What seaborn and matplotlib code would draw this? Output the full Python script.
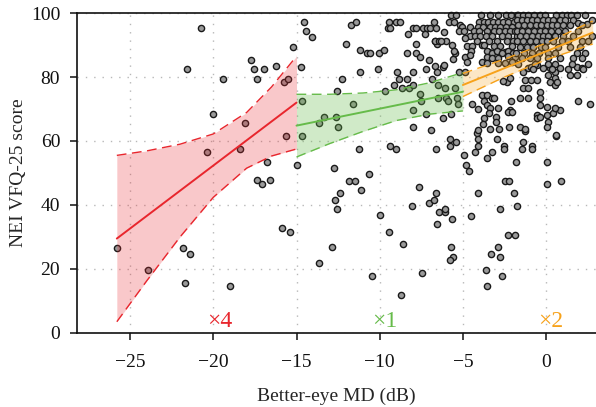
import matplotlib
matplotlib.use('Agg')
import matplotlib.pyplot as plt
import seaborn as sns
import pandas as pd

# scatter points: better-eye MD (dB) and VFQ-25 score
md_db = [
    # below -15 dB
    -25.8, -23.9, -21.8, -21.4, -21.7, -19.0, -15.9, -15.4,
    -20.76, -21.6, -19.4, -20.0, -20.35, -18.1, -18.4, -17.75, -17.55, -17.4, -16.95, -16.25,
    -15.76, -15.5, -15.2, -15.66, -16.76, -17.4, -17.05, -16.6, -15.0,
    # -15 to -5 dB
    -14.76, -14.56, -14.44, -14.08, -11.7, -11.4, -12.04, -11.2, -10.76, -10.6,
    -11.2, -12.26, -12.56, -10.02, -9.74, -10.12, -9.66, -9.44, -9.52, -9.36,
    -9.02, -8.8, -8.3, -8.0, -7.84, -7.84, -8.36, -7.84, -7.6, -7.4,
    -7.16, -6.96, -6.76, -6.6, -7.28, -6.7, -6.56, -7.02, -6.7, -6.56,
    -7.22, -8.02, -8.94, -8.82, -8.36, -9.12, -8.68, -8.22, -8.02, -6.84, -6.48,
    -14.7, -13.36, -12.62, -11.62, -7.56, -7.52, -8.0, -7.2, -6.52,
    -13.64, -12.5, -14.7, -11.22, -12.74, -11.82, -11.5, -10.62, -11.14, -12.38,
    -12.7, -12.54, -10.0, -9.38, -9.02, -7.98, -6.94, -6.64, -7.64, -6.64,
    -7.04, -6.74, -8.08, -6.42, -6.56,
    -12.86, -13.62, -10.44, -9.42, -8.58, -7.48, -8.7,
    -6.1, -6.06, -5.66, -5.74, -5.62, -5.76,
    -6.2, -6.06, -5.46, -6.0, -5.36, -5.32, -5.92, -5.72, -6.2,
    -5.76, -5.4, -5.76, -6.66, -6.46, -6.0, -5.6, -5.5, -5.16,
    # above -5 dB, lower part
    -4.5, -3.62, -3.54, -3.3, -2.88, -2.78, -2.66, -2.74, -2.3, -1.86, -1.74,
    -4.16, -4.12, -4.1, -4.26, -4.92, -4.84, -4.62, -3.56, -3.24, -2.96,
    -2.5, -2.5, -1.38, -1.46, -0.84, -0.84, -1.24, -1.78, -2.46, -2.22,
    -4.1, -1.9, 0.06, 0.04, 0.88, 0.58,
    # above -5 dB, middle part
    -5.26, -4.86, -4.46, -3.86, -3.76, -3.56, -3.26, -3.12, -3.56, -3.4,
    -2.86, -4.12, -3.76, -3.8, -4.12, -3.46, -3.0, -3.02, -3.36, -2.8,
    -2.36, -2.16, -2.56, -2.1, -2.16, -2.26, -2.06, -2.2, -1.56, -1.26,
    -1.36, -1.06, -1.06, -1.56, -1.36, -1.06, -1.26, -0.92, -0.56,
    -0.36, -0.36, -0.36, 0.04, -0.56, -0.56, -0.36, 0.04, 0.14, 0.44,
    0.84, 0.54, 0.08, 0.6,
    0.24, 0.54, 0.84, 0.54, 0.24, 0.14, 0.54, 0.64, 1.44, 1.84,
    2.14, 1.84, 1.94, 2.64, -0.92, -0.56, -0.16,
    # above -5 dB, dense top part
    -5.7, -5.4, -3.9, -3.36, -2.9, -2.42, -2.1, -1.76,
    -5.86, -5.52, -4.06, -3.76, -3.5, -3.22, -2.92, -2.6, -2.26, -1.92,
    -5.06, -4.6, -4.12, -3.8, -3.36, -3.06, -2.76, -2.4, -2.06,
    -5.26, -4.96, -4.36, -4.06, -3.56, -3.16, -2.8, -2.46, -2.16, -1.86,
    -6.12, -4.56, -4.26, -3.96, -3.62, -3.26, -2.66, -2.26, -1.76,
    -6.32, -4.86, -4.16, -3.86, -3.46, -2.96, -2.36, -1.96,
    -5.66, -4.76, -4.46, -3.76, -3.46, -3.16, -2.76, -2.46, -2.06,
    -5.56, -4.52, -3.56, -3.26, -2.96, -2.66, -2.26, -1.96,
    -4.86, -4.6, -3.56, -3.26, -2.86, -2.26, -1.86,
    -6.16, -4.76, -3.86, -3.56, -2.86, -2.46, -2.06,
    -1.66, -1.36, -1.06, -0.72, -0.36, -0.06, 0.58, 0.94, 1.24, 1.5, 1.84, 2.34,
    -1.76, -1.46, -1.16, -0.86, -0.56, -0.16, 0.14, 0.44, 0.84, 1.14, 1.64, 1.94, 2.44, 2.78,
    -1.66, -1.3, -0.96, -0.62, -0.3, 0.04, 0.34, 0.64, 1.04, 1.44, 2.14,
    -1.76, -1.42, -1.06, -0.7, -0.36, -0.06, 0.3, 0.74, 1.14, 1.94,
    -1.56, -1.22, -0.86, -0.5, -0.16, 0.14, 0.54, 1.04, 1.64, 2.74,
    -1.76, -1.36, -0.96, -0.62, -0.26, 0.04, 0.44, 0.94, 1.34, 2.14, 2.54,
    -1.56, -1.16, -0.76, -0.3, -0.06, 0.74, 1.44, 2.04,
    -1.82, -1.3, -0.86, -0.42, 0.14, 0.54, 1.84, 2.34,
    -1.46, -0.96, -0.56, 0.14, 0.84, 1.64, 2.14,
    -1.7, -0.66, 0.14, 0.54, 1.54, 2.54,
    -0.76, 0.34, 1.34, 2.24,
]
vfq_score = [
    26.7, 19.8, 26.7, 24.7, 15.7, 14.8, 32.7, 31.7,
    95.4, 82.5, 79.5, 68.5, 56.6, 65.5, 57.5, 85.3, 82.5, 79.5, 82.5, 83.4,
    78.5, 79.5, 89.5, 61.6, 53.5, 47.7, 46.7, 47.7, 52.6,
    83.2, 97.3, 94.4, 92.4, 96.3, 97.3, 90.4, 88.3, 87.4, 87.4,
    81.5, 79.4, 75.5, 87.4, 88.3, 82.4, 75.5, 97.3, 95.4, 95.4,
    97.3, 97.3, 93.4, 95.4, 95.4, 90.4, 87.4, 87.4, 86.3, 95.4,
    95.4, 95.4, 97.3, 95.4, 93.4, 91.4, 90.4, 85.3, 83.4, 81.5,
    82.4, 81.5, 81.5, 79.4, 79.4, 77.5, 76.5, 76.5, 77.5, 79.4, 77.5,
    72.6, 67.6, 67.6, 71.5, 74.6, 72.6, 69.6, 68.5, 73.4,
    65.5, 64.5, 61.6, 57.6, 51.6, 47.6, 47.6, 49.6, 44.6, 43.6,
    41.7, 38.7, 36.8, 58.5, 57.6, 64.5, 63.5, 57.6, 45.6, 43.6,
    40.7, 41.7, 39.7, 37.7, 34.1,
    26.8, 21.8, 17.8, 31.7, 27.7, 18.75, 11.8,
    37.7, 38.75, 35.7, 26.8, 23.75, 22.7,
    83.2, 76.5, 76.5, 73.5, 73.5, 71.5, 72.5, 68.3, 67.1,
    60.6, 59.6, 58.5, 91.4, 91.4, 91.4, 85.5, 87.6, 96.2,
    36.7, 19.8, 14.8, 24.8, 26.8, 23.75, 17.8, 38.7, 30.7, 30.7, 39.7,
    62.4, 60.6, 58.5, 56.6, 55.6, 52.6, 50.6, 54.6, 56.6, 60.5,
    58.5, 57.6, 59.6, 57.6, 58.5, 57.6, 63.2, 53.5, 47.6, 47.6,
    43.75, 43.6, 53.5, 46.7, 47.6, 61.6,
    81.7, 81.7, 71.5, 74.4, 72.5, 74.4, 73.3, 73.3, 71.3, 70.2,
    70.4, 70.0, 67.3, 65.2, 63.4, 68.7, 67.6, 65.8, 63.75, 63.75,
    78.5, 79.6, 78.8, 72.5, 69.7, 69.2, 69.2, 64.5, 64.5, 63.75,
    76.5, 76.5, 73.3, 73.3, 81.7, 82.7, 79.0, 79.0, 79.0,
    75.4, 73.3, 71.2, 70.7, 68.1, 67.1, 67.6, 68.1, 66.0, 68.7,
    69.7, 70.4, 64.5, 61.9,
    82.7, 81.7, 82.7, 79.6, 78.5, 80.6, 77.5, 78.5, 80.6, 83.2,
    82.7, 80.6, 72.5, 71.5, 83.2, 83.75, 82.7,
    99.4, 99.4, 99.4, 99.4, 99.4, 99.4, 99.4, 99.4,
    97.3, 97.3, 97.3, 97.3, 97.3, 97.3, 97.3, 97.3, 97.3, 97.3,
    95.6, 95.6, 95.6, 95.6, 95.6, 95.6, 95.6, 95.6, 95.6,
    94.5, 94.5, 94.5, 94.5, 94.5, 94.5, 94.5, 94.5, 94.5, 94.5,
    94.2, 92.8, 92.8, 92.8, 92.8, 92.8, 92.8, 92.8, 92.8,
    91.4, 92.1, 91.4, 89.9, 91.4, 91.4, 91.4, 91.4,
    90.0, 89.7, 89.7, 90.0, 87.9, 89.7, 89.7, 87.9, 89.7,
    88.2, 88.2, 88.2, 87.6, 88.2, 87.6, 88.2, 87.6,
    86.3, 86.9, 86.3, 86.0, 86.0, 86.7, 86.3,
    83.75, 84.8, 84.8, 84.5, 84.5, 84.4, 84.8,
    99.4, 99.4, 99.4, 99.4, 99.4, 99.4, 99.4, 99.4, 99.4, 99.4, 99.4, 99.4,
    97.8, 97.8, 97.8, 97.8, 97.8, 97.8, 97.8, 97.8, 97.8, 97.8, 97.8, 97.0, 96.5, 97.8,
    96.25, 96.25, 96.25, 96.25, 96.25, 96.25, 96.25, 96.25, 96.25, 96.25, 96.25,
    94.5, 94.5, 94.5, 94.5, 94.5, 94.5, 94.5, 94.5, 94.5, 94.5,
    92.8, 92.8, 92.8, 92.8, 92.8, 92.8, 92.8, 92.8, 92.8, 92.8,
    91.1, 91.1, 91.1, 91.1, 91.1, 91.1, 91.1, 91.1, 91.1, 91.1, 91.1,
    89.3, 89.3, 89.3, 89.3, 89.3, 89.3, 89.3, 89.3,
    87.6, 87.6, 87.6, 87.6, 87.6, 87.6, 87.6, 87.6,
    85.8, 85.8, 85.8, 85.8, 85.8, 85.8, 85.8,
    84.0, 84.0, 84.0, 84.0, 84.0, 84.0,
    82.6, 82.6, 82.6, 82.6,
]

# segment fits (line ends) and confidence band edges
red_fit_x = [-25.8, -15.0]
red_fit_y = [29.5, 72.0]
red_band_x = [-25.8, -24.0, -22.0, -20.0, -18.0, -16.5, -15.0]
red_band_hi = [55.5, 56.9, 59.0, 62.2, 68.9, 76.9, 86.5]
red_band_lo = [3.5, 16.3, 30.0, 42.4, 51.5, 55.3, 57.5]

green_fit_x = [-15.0, -5.0]
green_fit_y = [64.8, 75.4]
green_band_x = [-15.0, -13.0, -11.0, -9.0, -7.0, -5.0]
green_band_hi = [74.6, 74.6, 75.0, 76.0, 78.2, 81.4]
green_band_lo = [55.0, 59.2, 63.0, 66.4, 68.4, 69.4]

orange_fit_x = [-5.0, 2.8]
orange_fit_y = [77.5, 93.9]
orange_band_x = [-5.0, -2.5, 0.0, 2.8]
orange_band_hi = [81.1, 85.6, 90.6, 97.5]
orange_band_lo = [73.9, 80.0, 85.4, 90.3]

slope_labels = ['×4', '×1', '×2']
slope_label_x = [-19.6, -9.7, 0.3]

red = '#e8262d'
green = '#66bb4a'
orange = '#f7a21b'

sns.set_theme(style='ticks')
plt.rcParams['font.family'] = ['Liberation Serif', 'DejaVu Serif']

df = pd.DataFrame({'md': md_db, 'vfq': vfq_score})

fig = plt.figure(figsize=(5.96, 4.07), dpi=100)
ax = fig.add_axes([0.129, 0.182, 0.871, 0.786])

ax.grid(True, linestyle=(0, (1, 5)), color='#b8b8b8', linewidth=1)
ax.set_axisbelow(True)

sns.scatterplot(data=df, x='md', y='vfq', ax=ax, s=20, color='#9a9a9a',
                edgecolor='#1a1a1a', linewidth=1.0, zorder=2, clip_on=False)

segments = [
    (red_fit_x, red_fit_y, red_band_x, red_band_hi, red_band_lo, red, 0.25),
    (green_fit_x, green_fit_y, green_band_x, green_band_hi, green_band_lo, green, 0.3),
    (orange_fit_x, orange_fit_y, orange_band_x, orange_band_hi, orange_band_lo, orange, 0.25),
]
for fx, fy, bx, hi, lo, col, a in segments:
    ax.fill_between(bx, lo, hi, color=col, alpha=a, linewidth=0, zorder=3)
    ax.plot(bx, hi, color=col, lw=1.0, ls=(0, (7, 4)), zorder=4)
    ax.plot(bx, lo, color=col, lw=1.0, ls=(0, (7, 4)), zorder=4)
    sns.lineplot(x=fx, y=fy, ax=ax, color=col, lw=1.4, zorder=4)

for lab, lx, col in zip(slope_labels, slope_label_x, [red, green, orange]):
    ax.text(lx, 1.8, lab, color=col, fontsize=17, ha='center', va='baseline')

ax.set_xlim(-28.2, 3.0)
ax.set_ylim(0, 100)
ax.set_xticks([-25, -20, -15, -10, -5, 0])
ax.set_xticklabels(['\u221225', '\u221220', '\u221215', '\u221210', '\u22125', '0'])
ax.set_yticks([0, 20, 40, 60, 80, 100])
ax.tick_params(direction='out', length=5, width=1.1, labelsize=14, colors='#111111')
ax.tick_params(axis='x', pad=10)
ax.tick_params(axis='y', pad=7)
for side in ['left', 'bottom', 'top']:
    ax.spines[side].set_linewidth(1.2)
    ax.spines[side].set_color('#111111')
ax.spines['right'].set_visible(False)

ax.set_xlabel('Better-eye MD (dB)', fontsize=14, labelpad=12)
ax.set_ylabel('NEI VFQ-25 score', fontsize=14, labelpad=3)

fig.savefig('out.png', dpi=100)
